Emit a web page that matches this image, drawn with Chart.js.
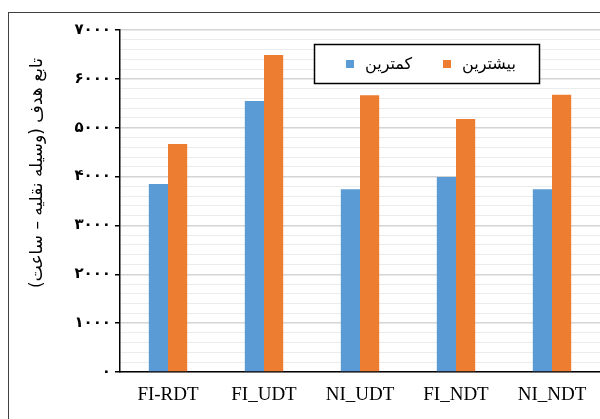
<!DOCTYPE html>
<html>
<head>
<meta charset="utf-8">
<script src="https://cdn.jsdelivr.net/npm/chart.js@4/dist/chart.umd.min.js"></script>
<style>
html,body{margin:0;padding:0;background:#fff;}
#wrap{width:600px;height:419px;}
</style>
</head>
<body>
<div id="wrap"><canvas id="bar-chart" width="600" height="419"></canvas></div>
<script>
var categorie = ['FI-RDT', 'FI_UDT', 'NI_UDT', 'FI_NDT', 'NI_NDT'];
var kamtarin = [3850, 5545, 3740, 3990, 3740];
var bishtarin = [4665, 6490, 5665, 5180, 5675];
var valoriTick = [0, 1000, 2000, 3000, 4000, 5000, 6000, 7000];
var etichetteTick = ['۰', '۱۰۰۰', '۲۰۰۰', '۳۰۰۰', '۴۰۰۰', '۵۰۰۰', '۶۰۰۰', '۷۰۰۰'];
var titoloY = 'تابع هدف (وسیله نقلیه – ساعت)';
var nomiSerie = ['کمترین', 'بیشترین'];

// cornice + titolo asse y disegnati a mano
var cornice = {
  id: 'cornice',
  beforeDraw: function(chart)
  {
    var ctx = chart.ctx;
    ctx.save();
    ctx.fillStyle = '#ffffff';
    ctx.fillRect(0, 0, chart.width, chart.height);
    ctx.strokeStyle = '#404040';
    ctx.lineWidth = 1;
    ctx.strokeRect(8.5, 12.5, 700, 600);
    ctx.restore();
  },
  afterDraw: function(chart)
  {
    var ctx = chart.ctx;
    ctx.save();
    ctx.translate(38, 173);
    ctx.rotate(-Math.PI / 2);
    ctx.font = '17px "DejaVu Sans"';
    ctx.fillStyle = '#000';
    ctx.textAlign = 'center';
    ctx.textBaseline = 'middle';
    ctx.fillText(titoloY, 0, 0);
    ctx.restore();
  }
};

// legenda dentro l'area del grafico, con bordo nero
var legenda = {
  id: 'legenda',
  afterDraw: function(chart)
  {
    var ctx = chart.ctx;
    ctx.save();
    ctx.fillStyle = '#ffffff';
    ctx.fillRect(314, 44, 225, 39);
    ctx.strokeStyle = '#000';
    ctx.lineWidth = 1.5;
    ctx.strokeRect(314.5, 44.5, 225, 39);
    ctx.font = '16px "DejaVu Sans"';
    ctx.textBaseline = 'middle';
    ctx.textAlign = 'left';
    var posX = [346, 443];
    chart.data.datasets.forEach(function(ds, i)
    {
      ctx.fillStyle = ds.backgroundColor;
      ctx.fillRect(posX[i], 60, 8, 8);
      ctx.fillStyle = '#000';
      ctx.fillText(ds.label, posX[i] + 19, 65);
    });
    ctx.restore();
  }
};

new Chart(document.getElementById('bar-chart'),
{
  type: 'bar',
  data:
  {
    labels: categorie,
    datasets:
    [
      {
        label: nomiSerie[0],
        data: kamtarin,
        backgroundColor: '#5B9BD5'
      },
      {
        label: nomiSerie[1],
        data: bishtarin,
        backgroundColor: '#ED7D31'
      }
    ]
  },
  options:
  {
    responsive: false,
    animation: false,
    layout: { padding: { top: 30, right: 0, bottom: 0, left: 0 } },
    categoryPercentage: 0.4,
    barPercentage: 1.0,
    plugins:
    {
      legend: { display: false },
      tooltip: { enabled: false }
    },
    scales:
    {
      x:
      {
        grid: { display: false, drawTicks: false },
        border: { color: '#000', width: 1.5 },
        ticks:
        {
          color: '#000',
          padding: 12,
          maxRotation: 0,
          font: { family: '"Liberation Serif"', size: 19 }
        },
        afterFit: function(scale) { scale.height = 47; }
      },
      y:
      {
        min: 0,
        max: 7000,
        border: { color: '#000', width: 1.5 },
        grid:
        {
          color: function(c) { return c.tick.value % 1000 === 0 ? '#d4d4d4' : '#ececec'; },
          tickColor: function(c) { return c.tick.value % 1000 === 0 ? '#000' : 'rgba(0,0,0,0)'; },
          tickLength: 5,
          lineWidth: function(c) { return c.tick.value % 1000 === 0 ? 1.5 : 1; }
        },
        ticks:
        {
          stepSize: 200,
          autoSkip: false,
          color: '#000',
          padding: 4,
          font: { family: '"DejaVu Sans"', size: 15, weight: 'bold' },
          callback: function(v)
          {
            var k = valoriTick.indexOf(v);
            return k >= 0 ? etichetteTick[k] : '';
          }
        },
        afterFit: function(scale) { scale.width = 120; }
      }
    }
  },
  plugins: [cornice, legenda]
});
</script>
</body>
</html>
